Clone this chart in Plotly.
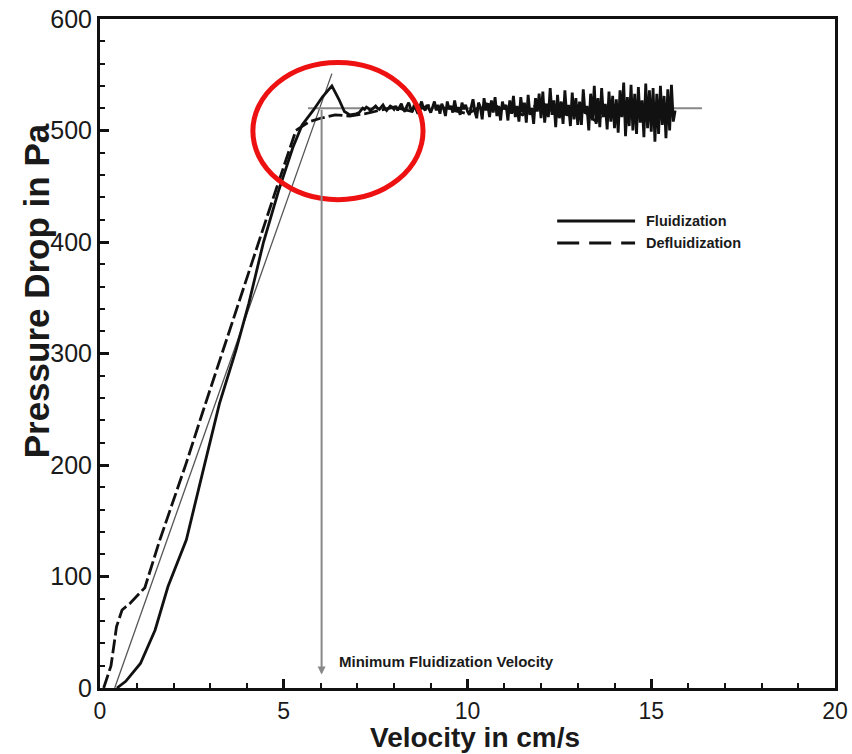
import plotly.graph_objects as go

# ---------------- data ----------------
fluid_x_rise = [0.46, 0.7, 1.1, 1.5, 1.85, 2.35, 2.85, 3.25, 3.7, 4.05, 4.45, 4.85, 5.25, 5.5, 5.8, 6.05, 6.31, 6.5, 6.65, 6.8, 6.97]
fluid_y_rise = [0, 6, 22, 52, 91, 133, 201, 255, 303, 345, 400, 445, 485, 505, 518, 530, 540, 528, 517, 514, 515]

fluid_x_noise = [round(7.05 + 0.05 * i, 2) for i in range(173)]
fluid_y_noise = [
    516, 518, 520, 519, 521, 520, 518, 519, 521, 522, 520, 519, 521, 523, 520, 518, 520, 522, 521, 519,
    522, 518, 521, 524, 519, 517, 522, 525, 520, 517, 523, 519, 515, 521, 526, 520, 518, 523, 519, 516,
    521, 526, 518, 523, 515, 524, 520, 513, 526, 519, 522, 516, 527, 518, 521, 514, 525, 519, 523, 517,
    514, 522, 528, 517, 511, 525, 521, 510, 529, 518, 524, 512, 527, 516, 530, 513, 522, 509, 526, 519,
    523, 509, 527, 515, 531, 512, 522, 508, 530, 516, 525, 507, 532, 514, 520, 506, 529, 517, 533, 511,
    535, 507, 524, 512, 538, 514, 527, 503, 532, 511, 526, 506, 536, 513, 523, 504, 534, 510, 529, 505,
    526, 505, 537, 515, 522, 500, 533, 509, 540, 506, 529, 503, 538, 512, 524, 501, 535, 508, 531, 502,
    528, 498, 536, 512, 543, 495, 530, 504, 541, 500, 533, 497, 539, 507, 527, 494, 542, 502, 536, 499,
    538, 490, 533, 497, 540, 505, 531, 493, 537, 500, 541, 508, 518,
]

defl_x = [0.1, 0.3, 0.45, 0.6, 0.82, 1.22, 1.63, 2.34, 2.8, 3.32, 3.8, 4.3, 4.8, 5.33, 5.7, 6.0, 6.4, 6.8, 7.2, 7.6,
          8.0, 8.5, 9.0, 9.5, 10.0, 10.5, 11.0, 11.5, 12.0, 12.5, 13.0, 13.5, 14.0, 14.5, 15.0, 15.65]
defl_y = [0, 20, 55, 70, 76, 90, 133, 201, 248, 300, 350, 400, 448, 500, 508, 511, 514, 513, 515, 518,
          521, 517, 523, 519, 515, 524, 520, 514, 526, 512, 522, 508, 525, 511, 520, 515]

packed_x = [0.4, 6.31]
packed_y = [0, 551]
plateau_x = [5.66, 16.38]
plateau_y = [520, 520]
umf_x = 6.03
umf_top = 520

x_ticks = [0, 5, 10, 15, 20]
y_ticks = [0, 100, 200, 300, 400, 500, 600]

FONT = "Liberation Sans, Arial"
TXT = "#1a1a1a"

# ---------------- figure ----------------
fig = go.Figure()

fig.add_trace(go.Scatter(x=packed_x, y=packed_y, mode="lines",
                         line=dict(color="#555555", width=1.3), showlegend=False, hoverinfo="skip"))
fig.add_trace(go.Scatter(x=plateau_x, y=plateau_y, mode="lines",
                         line=dict(color="#888888", width=2), showlegend=False, hoverinfo="skip"))
fig.add_trace(go.Scatter(x=defl_x, y=defl_y, mode="lines",
                         line=dict(color="#111111", width=2.8, dash="14px,4px"), showlegend=False))
fig.add_trace(go.Scatter(x=fluid_x_rise + fluid_x_noise, y=fluid_y_rise + fluid_y_noise, mode="lines",
                         line=dict(color="#111111", width=2.8), showlegend=False))

# vertical arrow for minimum fluidization velocity
fig.add_annotation(x=umf_x, y=12, ax=umf_x, ay=umf_top, xref="x", yref="y", axref="x", ayref="y",
                   showarrow=True, arrowhead=2, arrowsize=0.8, arrowwidth=2, arrowcolor="#888888", text="")
fig.add_annotation(x=6.45, y=24, xref="x", yref="y", text="<b>Minimum Fluidization Velocity</b>",
                   showarrow=False, xanchor="left", yanchor="middle",
                   font=dict(family=FONT, size=15, color=TXT))

# red ellipse
fig.add_shape(type="circle", xref="x", yref="y", x0=4.16, x1=8.79, y0=438, y1=561,
              line=dict(color="#ee1111", width=5))

# manual legend
fig.add_shape(type="line", xref="paper", yref="paper", x0=0.622, x1=0.728, y0=0.698, y1=0.698,
              line=dict(color="#111111", width=3))
fig.add_shape(type="line", xref="paper", yref="paper", x0=0.622, x1=0.728, y0=0.665, y1=0.665,
              line=dict(color="#111111", width=3, dash="22px,10px"))
fig.add_annotation(x=0.74, y=0.698, xref="paper", yref="paper", text="<b>Fluidization</b>", showarrow=False,
                   xanchor="left", yanchor="middle", font=dict(family=FONT, size=14.5, color=TXT))
fig.add_annotation(x=0.74, y=0.665, xref="paper", yref="paper", text="<b>Defluidization</b>", showarrow=False,
                   xanchor="left", yanchor="middle", font=dict(family=FONT, size=14.5, color=TXT))

# axis titles
fig.add_annotation(x=0.51, y=-0.0735, xref="paper", yref="paper", text="<b>Velocity in cm/s</b>",
                   showarrow=False, xanchor="center", yanchor="middle",
                   font=dict(family=FONT, size=28, color=TXT))
fig.add_annotation(x=-0.087, y=0.593, xref="paper", yref="paper", text="<b>Pressure Drop in Pa</b>",
                   showarrow=False, xanchor="center", yanchor="middle", textangle=-90,
                   font=dict(family=FONT, size=35, color=TXT))

axis_common = dict(showgrid=False, zeroline=False, showline=True, linecolor="#111111", linewidth=3,
                   mirror=True, ticks="inside", tickwidth=2.5, ticklen=9, tickcolor="#111111",
                   automargin=False)

fig.update_xaxes(range=[0, 20], tickvals=x_ticks, ticktext=[str(v) for v in x_ticks],
                 tickfont=dict(family=FONT, size=23, color=TXT),
                 minor=dict(dtick=1, ticks="inside", ticklen=5, tickwidth=1.5, tickcolor="#111111"),
                 **axis_common)
fig.update_yaxes(range=[0, 600], tickvals=y_ticks, ticktext=[str(v) for v in y_ticks],
                 tickfont=dict(family=FONT, size=25, color=TXT),
                 minor=dict(dtick=20, ticks="inside", ticklen=5, tickwidth=1.5, tickcolor="#111111"),
                 **axis_common)

fig.update_layout(width=852, height=754, margin=dict(l=100, r=17, t=19, b=66),
                  paper_bgcolor="white", plot_bgcolor="white", showlegend=False)

fig.write_html("out.html")
